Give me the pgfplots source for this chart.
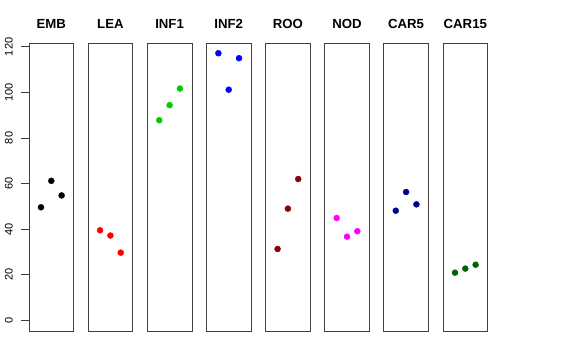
\documentclass[border=0pt]{standalone}
\usepackage{pgfplots}
\pgfplotsset{compat=1.18}
\usepackage{fontspec}
\setmainfont{Liberation Sans}
\definecolor{rgreen}{RGB}{0,205,0}
\definecolor{rdarkred}{RGB}{139,0,0}
\definecolor{rnavy}{RGB}{0,0,139}
\definecolor{rdarkgreen}{RGB}{0,100,0}
\definecolor{rmagenta}{RGB}{255,0,255}
\definecolor{rred}{RGB}{255,0,0}
\definecolor{rblue}{RGB}{0,0,255}
\pgfplotsset{
  panel/.style={
    width=44.6pt, height=288pt, scale only axis, anchor=south west,
    xmin=-0.16, xmax=4.16, ymin=-4.68, ymax=121.68,
    xtick=\empty, ytick=\empty,
    axis line style={line width=0.7pt, black!75},
    title style={at={(0.5,1)}, anchor=base, yshift=8.7pt, inner sep=0pt,
      font=\bfseries\fontsize{13.2}{14}\selectfont},
    every axis plot/.style={only marks, mark=*, mark size=3pt},
  }
}
\begin{document}
\begin{tikzpicture}
\useasboundingbox (0,0) rectangle (576pt,360pt);
\begin{axis}[panel, at={(29pt,29pt)}, title={EMB},
  ytick={0,20,40,60,80,100,120}, ytick pos=left, tick align=outside,
  major tick length=8pt, tick style={line width=0.7pt, black!75},
  /pgf/number format/assume math mode=true,
  yticklabel style={rotate=90, anchor=south, inner sep=0pt,
    font=\fontsize{11}{12}\selectfont},
  yticklabel shift=8pt]
\addplot[black] coordinates {(1,49.6) (2,61.2) (3,54.8)};
\end{axis}
\begin{axis}[panel, at={(88.1pt,29pt)}, title={LEA}]
\addplot[rred] coordinates {(1,39.5) (2,37.2) (3,29.7)};
\end{axis}
\begin{axis}[panel, at={(147.3pt,29pt)}, title={INF1}]
\addplot[rgreen] coordinates {(1,87.8) (2,94.4) (3,101.7)};
\end{axis}
\begin{axis}[panel, at={(206.4pt,29pt)}, title={INF2}]
\addplot[rblue] coordinates {(1,117.2) (2,101.2) (3,115.0)};
\end{axis}
\begin{axis}[panel, at={(265.6pt,29pt)}, title={ROO}]
\addplot[rdarkred] coordinates {(1,31.3) (2,49.0) (3,62.0)};
\end{axis}
\begin{axis}[panel, at={(324.7pt,29pt)}, title={NOD}]
\addplot[rmagenta] coordinates {(1,44.9) (2,36.7) (3,39.1)};
\end{axis}
\begin{axis}[panel, at={(383.8pt,29pt)}, title={CAR5}]
\addplot[rnavy] coordinates {(1,48.1) (2,56.3) (3,50.9)};
\end{axis}
\begin{axis}[panel, at={(443pt,29pt)}, title={CAR15}]
\addplot[rdarkgreen] coordinates {(1,20.9) (2,22.7) (3,24.4)};
\end{axis}
\end{tikzpicture}
\end{document}
